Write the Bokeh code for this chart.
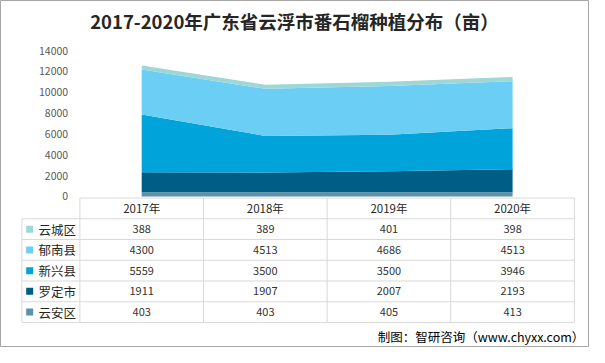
from bokeh.plotting import figure
from bokeh.models import Range1d, ColumnDataSource
from bokeh.embed import file_html
from bokeh.resources import INLINE
from bokeh.core.properties import value

# ---------------- data ----------------
years = ["2017年", "2018年", "2019年", "2020年"]
table_names = ["云城区", "郁南县", "新兴县", "罗定市", "云安区"]   # table row order (top to bottom)
yuncheng = [388, 389, 401, 398]      # 云城区
yunnan = [4300, 4513, 4686, 4513]    # 郁南县
xinxing = [5559, 3500, 3500, 3946]   # 新兴县
luoding = [1911, 1907, 2007, 2193]   # 罗定市
yunan_qu = [403, 403, 405, 413]      # 云安区
y_ticks = [0, 2000, 4000, 6000, 8000, 10000, 12000, 14000]

colors = {
    "云城区": "#9FD6D6",
    "郁南县": "#6BCEF4",
    "新兴县": "#00A3DA",
    "罗定市": "#005E86",
    "云安区": "#5C91A7",
}
values = {
    "云城区": yuncheng,
    "郁南县": yunnan,
    "新兴县": xinxing,
    "罗定市": luoding,
    "云安区": yunan_qu,
}

FONT = "Noto Sans CJK SC"
W, H = 589, 347

p = figure(width=W, height=H, output_backend="svg", toolbar_location=None,
           x_axis_type=None, y_axis_type=None,
           x_range=Range1d(-1.142, 3.622), y_range=Range1d(-14490, 18800),
           min_border=0, min_border_left=0, min_border_right=0,
           min_border_top=0, min_border_bottom=0)
p.outline_line_color = "#A6A6A6"
p.background_fill_color = "white"
p.border_fill_color = "white"

# ---------------- stacked area ----------------
xs = list(range(len(years)))
stack_order = ["云安区", "罗定市", "新兴县", "郁南县", "云城区"]  # bottom -> top
src = ColumnDataSource(dict(x=xs, **{n: values[n] for n in stack_order}))
p.varea_stack(stackers=stack_order, x="x", color=[colors[n] for n in stack_order], source=src)

# ---------------- y tick labels ----------------
p.text(x=[-0.595] * len(y_ticks), y=y_ticks, text=[str(t) for t in y_ticks],
       text_align="right", text_baseline="middle", text_font=value(FONT),
       text_font_size="10.5px", text_color="#595959")

# ---------------- table ----------------
top = -150
row_h = 1990
n_rows = len(table_names)
label_left = -0.969
col_edges = [i - 0.5 for i in range(len(years) + 1)]
row_edges = [top - row_h * k for k in range(n_rows + 2)]

sx0, sy0, sx1, sy1 = [], [], [], []
# horizontal lines
for k, ry in enumerate(row_edges):
    sx0.append(col_edges[0] if k == 0 else label_left)
    sx1.append(col_edges[-1])
    sy0.append(ry)
    sy1.append(ry)
# vertical lines
sx0.append(label_left); sx1.append(label_left); sy0.append(row_edges[1]); sy1.append(row_edges[-1])
for ce in col_edges:
    sx0.append(ce); sx1.append(ce); sy0.append(row_edges[0]); sy1.append(row_edges[-1])
p.segment(x0=sx0, y0=sy0, x1=sx1, y1=sy1, line_color="#D9D9D9", line_width=1)

# header
p.text(x=xs, y=[(row_edges[0] + row_edges[1]) / 2] * len(years), text=years,
       text_align="center", text_baseline="middle", text_font=value(FONT),
       text_font_size="11.5px", text_color="#262626")

# rows
row_centers = [(row_edges[k + 1] + row_edges[k + 2]) / 2 for k in range(n_rows)]
p.scatter(x=[-0.906] * n_rows, y=row_centers, marker="square", size=7,
          color=[colors[n] for n in table_names], line_color=None)
p.text(x=[-0.835] * n_rows, y=row_centers, text=table_names,
       text_align="left", text_baseline="middle", text_font=value(FONT),
       text_font_size="12.5px", text_color="#262626")

cx, cy, ct = [], [], []
for k, name in enumerate(table_names):
    for j, v in enumerate(values[name]):
        cx.append(xs[j]); cy.append(row_centers[k]); ct.append(str(v))
p.text(x=cx, y=cy, text=ct, text_align="center", text_baseline="middle",
       text_font=value(FONT), text_font_size="11px", text_color="#333333")

# title
p.text(x=[1.236], y=[16800], text=["2017-2020年广东省云浮市番石榴种植分布（亩）"],
       text_align="center", text_baseline="middle", text_font=value(FONT),
       text_font_size="18.5px", text_font_style="bold", text_color="#262626")

# source
p.text(x=[3.58], y=[-13480], text=["制图：智研咨询（www.chyxx.com）"],
       text_align="right", text_baseline="middle", text_font=value(FONT),
       text_font_size="12.5px", text_color="#000000")

open("out.html", "w").write(file_html(p, INLINE))
